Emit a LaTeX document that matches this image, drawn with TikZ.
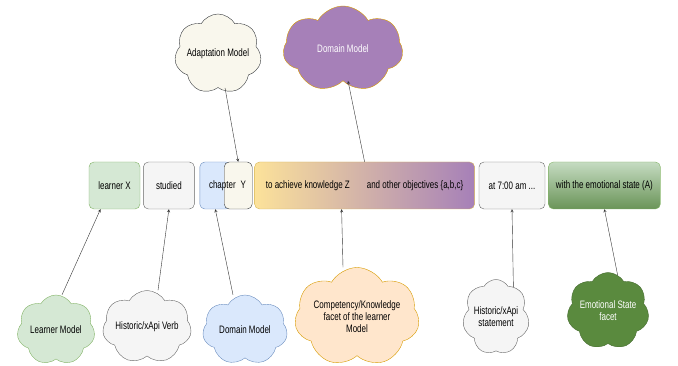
\documentclass[tikz,border=0pt]{standalone}
\usepackage{fontspec}
\setmainfont{Liberation Sans}[FakeStretch=0.74]
\usetikzlibrary{positioning,shapes.symbols}

\definecolor{greenfill}{HTML}{D5E8D4}
\definecolor{greenline}{HTML}{82B366}
\definecolor{greyfill}{HTML}{F5F5F5}
\definecolor{greyline}{HTML}{666666}
\definecolor{bluefill}{HTML}{DAE8FC}
\definecolor{blueline}{HTML}{6C8EBF}
\definecolor{creamfill}{HTML}{F9F7ED}
\definecolor{creamline}{HTML}{36393D}
\definecolor{orangefill}{HTML}{FFE6CC}
\definecolor{orangeline}{HTML}{D79B00}
\definecolor{yellowfill}{HTML}{FCE29A}
\definecolor{yellowline}{HTML}{D6B656}
\definecolor{purplefill}{HTML}{A680B8}
\definecolor{darkgreen}{HTML}{5A8A3E}
\definecolor{midgreen}{HTML}{6A9458}

\begin{document}
\begin{tikzpicture}[x=1pt, y=-1pt,
						font=\fontsize{10.8}{12}\selectfont,
						box/.style={rectangle, rounded corners=5pt, thin, minimum height=47pt, inner sep=1pt},
						model/.style={cloud, cloud puffs=7, cloud puff arc=120, cloud ignores aspect, thin, align=center, inner sep=1pt},
						txt/.style={inner sep=0pt}
					]
					\useasboundingbox (0,0) rectangle (678,366);
					% the statement
					\node[box, fill=greenfill, draw=greenline, minimum width=51pt] (learnerx) at (114.5,185.5) {learner X};
					\node[box, fill=greyfill, draw=greyline, minimum width=51pt] (studied) [right=3pt of learnerx] {studied};
					\node[box, fill=bluefill, draw=blueline, minimum width=31pt] (chapter) [right=5pt of studied] {};
					\node[box, fill=creamfill, draw=creamline, minimum width=28pt] (ybox) [right=-7pt of chapter] {};
					\node[txt] (chaptertext) at ([xshift=3.5pt]ybox.west) {chapter\hspace{5pt}Y};
					\node[box, left color=yellowfill, right color=purplefill, draw=yellowline, minimum width=220pt] (knowledge) [right=2pt of ybox] {to achieve knowledge Z\hspace{17pt}and other objectives \{a,b,c\}};
					\node[box, fill=greyfill, draw=greyline, minimum width=66pt] (time) [right=4pt of knowledge] {at 7:00 am ...};
					\node[box, top color=greenfill!85!midgreen, bottom color=midgreen, draw=greenline, minimum width=112pt] (emotion) [right=3pt of time] {with the emotional state (A)};
					% the models
					\node[model, fill=creamfill, draw=creamline, minimum width=87pt, minimum height=80pt] (adaptation) at (218,54) {Adaptation Model};
					\node[model, fill=purplefill, draw=orangeline, text=white, minimum width=120pt, minimum height=86pt] (domaintop) at (343,49) {Domain Model};
					\node[model, fill=greenfill, draw=greenline, minimum width=78pt, minimum height=70pt] (learnermodel) at (56,330) {Learner Model};
					\node[model, fill=greyfill, draw=greyline, minimum width=89pt, minimum height=73pt] (verb) at (147,327) {Historic/xApi Verb};
					\node[model, fill=bluefill, draw=blueline, minimum width=85pt, minimum height=70pt] (domainbottom) at (245,330) {Domain Model};
					\node[model, fill=orangefill, draw=orangeline, minimum width=120pt, minimum height=99pt] (competency) at (357,317) {Competency/Knowledge\\facet of the learner\\Model};
					\node[model, fill=greyfill, draw=greyline, minimum width=64pt, minimum height=75pt] (statement) at (496,317) {Historic/xApi\\statement};
					\node[model, fill=darkgreen, draw=darkgreen!80!black, text=white, minimum width=54pt, minimum height=77pt] (emotionfacet) at (608,311) {Emotional State\\facet};
					\begin{scope}[thin, draw=black!80, -stealth]
					\draw ([xshift=6pt]learnermodel.north) -- ([xshift=-14pt]learnerx.south);
					\draw ([xshift=11pt]verb.north) -- (studied.south);
					\draw ([xshift=-12pt]domainbottom.north) -- (chapter.south);
					\draw ([xshift=-14pt]competency.north) -- ([xshift=-23pt]knowledge.south);
					\draw (statement.60) -- (time.south);
					\draw (emotionfacet.75) -- (emotion.south);
					\draw ([xshift=7pt]adaptation.south) -- (ybox.north);
					\draw (knowledge.north) -- ([xshift=5pt]domaintop.south);
					\end{scope}
					\end{tikzpicture}
\end{document}
